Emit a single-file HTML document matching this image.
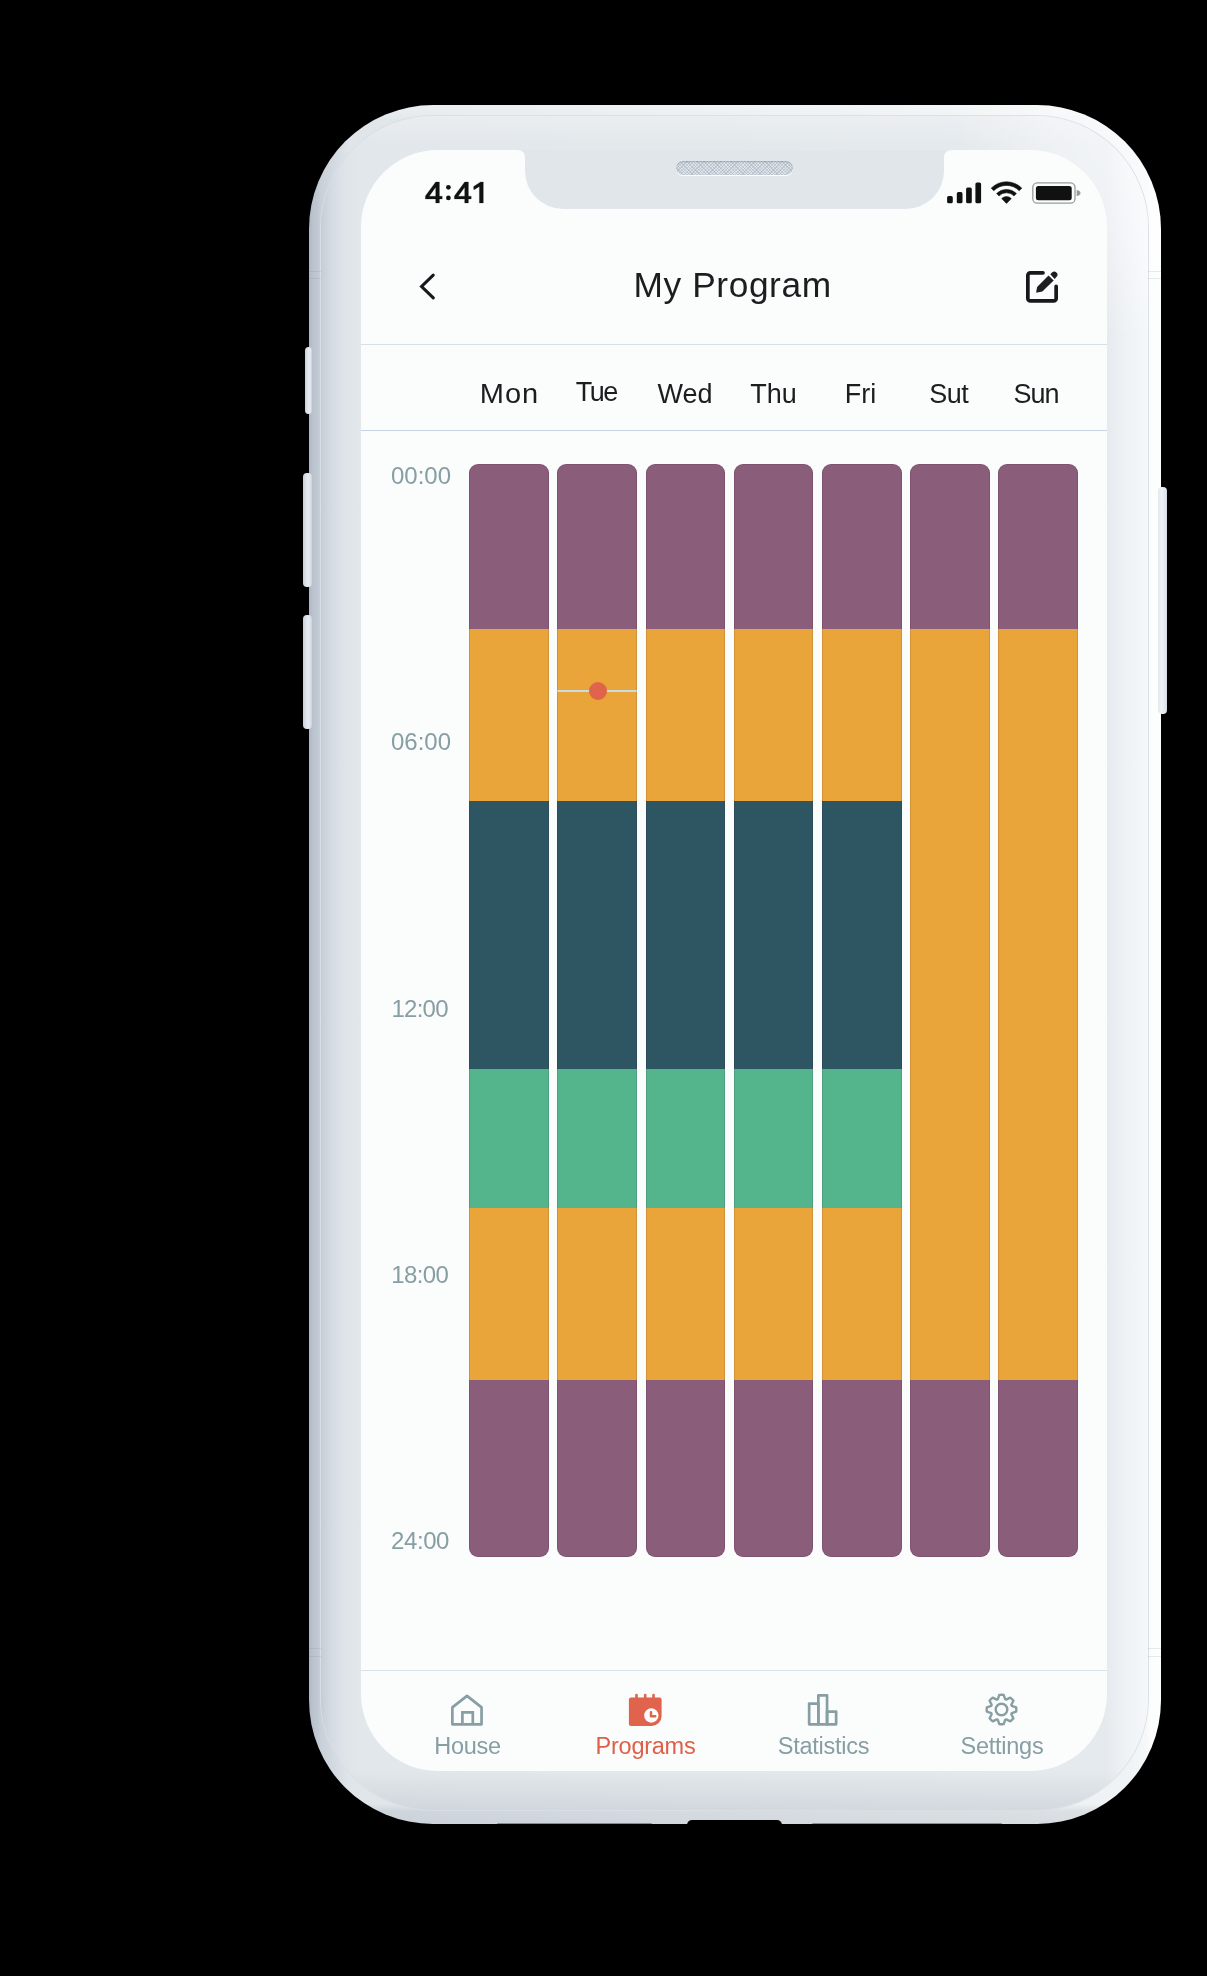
<!DOCTYPE html>
<html>
<head>
<meta charset="utf-8">
<style>
html,body{margin:0;padding:0;}
body{width:1207px;height:1976px;background:#000;position:relative;overflow:hidden;font-family:"Liberation Sans",sans-serif;}
.abs{position:absolute;}
.phone{position:absolute;z-index:0;left:309px;top:105px;width:852px;height:1719px;border-radius:124px;
  background:radial-gradient(ellipse 220px 260px at 100% 0%,rgba(255,255,255,0.7),rgba(255,255,255,0) 100%),linear-gradient(to bottom,rgba(255,255,255,0.35) 0,rgba(255,255,255,0.2) 10px,rgba(255,255,255,0) 16px,rgba(0,0,0,0) calc(100% - 20px),rgba(50,65,90,0.10) calc(100% - 13px),rgba(50,65,90,0.12) 100%),
  linear-gradient(to right,#adb7c3 0px,#b8c1cc 3px,#c1c9d3 9px,#c8d0d9 12px,#e0e5ea 40px,#e9edf0 50%,#f0f3f5 calc(100% - 30px),#f6f8fa calc(100% - 14px),#fcfdfd calc(100% - 10px),#fdfefe 100%);}
.ring{position:absolute;left:12px;top:11px;right:13px;bottom:14px;border-radius:112px;
  background:radial-gradient(ellipse 190px 230px at 100% 0%,rgba(255,255,255,0.6),rgba(255,255,255,0.35) 55%,rgba(255,255,255,0) 100%),linear-gradient(to bottom,rgba(255,255,255,0.25) 0,rgba(255,255,255,0) 30px,rgba(0,0,0,0) calc(100% - 40px),rgba(50,65,90,0.10) 100%),
  linear-gradient(to right,#c4ccd6 0px,#cbd3db 4px,#d3dae1 10px,#dce2e8 20px,#e1e6ea 32px,#e2e7eb 40px,#e5eaee calc(100% - 42px),#edf1f4 calc(100% - 25px),#f3f6f8 calc(100% - 8px),#f5f8f9 100%);
  box-shadow:0 0 0 1px rgba(216,223,230,0.95);}
.btn{position:absolute;border-radius:4px;background:linear-gradient(to right,#c9d0d8 0,#dfe4ea 35%,#e8ecf0 55%,#dfe5ea 80%,#c8d0d9 100%);}
.screen{position:absolute;left:361px;top:150px;width:746px;height:1621px;border-radius:77px;background:#fbfcfc;overflow:hidden;z-index:2;}
.t{position:absolute;white-space:nowrap;line-height:1;}
.day{position:absolute;font-size:27px;color:#1b1d1f;text-align:center;width:100px;line-height:1;}
.lbl{position:absolute;left:391px;font-size:24px;color:#879ea4;line-height:1;}
.col{position:absolute;width:79.7px;top:313.5px;height:1093.5px;border-radius:9px;overflow:hidden;}
.seg{position:absolute;left:0;width:100%;}
.col::after{content:"";position:absolute;inset:0;border-radius:9px;box-shadow:inset 0 0 0 1px rgba(40,10,40,0.12);pointer-events:none;}
.nav{position:absolute;font-size:23.5px;color:#879ea4;text-align:center;width:160px;line-height:1;top:1735px;letter-spacing:-0.25px;}
.hr{position:absolute;left:361px;width:746px;height:1.3px;}
</style>
</head>
<body>
<div class="btn" style="left:305.3px;top:347px;width:6.5px;height:66.6px;border-radius:3.5px;z-index:1"></div>
<div class="btn" style="left:303px;top:472.5px;width:8.5px;height:114px;z-index:1"></div>
<div class="btn" style="left:303px;top:614.5px;width:8.5px;height:114px;z-index:1"></div>
<div class="btn" style="left:1158px;top:487px;width:9px;height:227px;z-index:1;background:linear-gradient(to right,#e4e9ee 0,#eef2f5 40%,#dfe5ea 85%,#cfd6de 100%);"></div>

<div class="abs" style="left:309px;top:270.7px;width:12px;height:1px;background:rgba(120,132,150,0.16);z-index:1"></div>
<div class="abs" style="left:1148px;top:270.7px;width:13px;height:1px;background:rgba(120,132,150,0.16);z-index:1"></div>
<div class="abs" style="left:309px;top:277.9px;width:12px;height:1px;background:rgba(120,132,150,0.16);z-index:1"></div>
<div class="abs" style="left:1148px;top:277.9px;width:13px;height:1px;background:rgba(120,132,150,0.16);z-index:1"></div>
<div class="abs" style="left:309px;top:1648.2px;width:12px;height:1px;background:rgba(120,132,150,0.16);z-index:1"></div>
<div class="abs" style="left:1148px;top:1648.2px;width:13px;height:1px;background:rgba(120,132,150,0.16);z-index:1"></div>
<div class="abs" style="left:309px;top:1655.8px;width:12px;height:1px;background:rgba(120,132,150,0.16);z-index:1"></div>
<div class="abs" style="left:1148px;top:1655.8px;width:13px;height:1px;background:rgba(120,132,150,0.16);z-index:1"></div>
<div class="phone"><div class="ring"></div></div>

<div class="screen">
<svg class="abs" style="left:0;top:0" width="746" height="80" viewBox="0 0 746 80">
<path d="M156 0 Q164 0 164 8 L164 21 A38 38 0 0 0 202 59 L545 59 A38 38 0 0 0 583 21 L583 8 Q583 0 591 0 Z" fill="#e1e6eb"/>
</svg>
<div class="abs" style="left:315.3px;top:11.4px;width:116.4px;height:13.4px;border-radius:7px;background:repeating-linear-gradient(45deg,rgba(165,176,190,0.5) 0 0.9px,transparent 0.9px 2.4px),repeating-linear-gradient(-45deg,rgba(165,176,190,0.5) 0 0.9px,transparent 0.9px 2.4px),#dfe4e9;box-shadow:inset 0 1px 1.5px rgba(120,132,146,0.55),0 1px 0.8px rgba(255,255,255,0.95);"></div>
<div class="col" style="left:108.30px;"><div class="seg" style="top:0px;height:165.1px;background:#8a5e7a;"></div><div class="seg" style="top:165.1px;height:172.4px;background:#e9a43a;"></div><div class="seg" style="top:337.5px;height:268.0px;background:#2e5562;"></div><div class="seg" style="top:605.5px;height:139.0px;background:#54b48b;"></div><div class="seg" style="top:744.5px;height:172.3px;background:#e9a43a;"></div><div class="seg" style="top:916.8px;height:176.7px;background:#8a5e7a;"></div></div>
<div class="col" style="left:196.45px;"><div class="seg" style="top:0px;height:165.1px;background:#8a5e7a;"></div><div class="seg" style="top:165.1px;height:172.4px;background:#e9a43a;"></div><div class="seg" style="top:337.5px;height:268.0px;background:#2e5562;"></div><div class="seg" style="top:605.5px;height:139.0px;background:#54b48b;"></div><div class="seg" style="top:744.5px;height:172.3px;background:#e9a43a;"></div><div class="seg" style="top:916.8px;height:176.7px;background:#8a5e7a;"></div><div class="seg" style="top:226.3px;height:2px;background:#c9dce2;"></div><div class="abs" style="left:32px;top:218.3px;width:18px;height:18px;border-radius:50%;background:#e0634b;"></div></div>
<div class="col" style="left:284.60px;"><div class="seg" style="top:0px;height:165.1px;background:#8a5e7a;"></div><div class="seg" style="top:165.1px;height:172.4px;background:#e9a43a;"></div><div class="seg" style="top:337.5px;height:268.0px;background:#2e5562;"></div><div class="seg" style="top:605.5px;height:139.0px;background:#54b48b;"></div><div class="seg" style="top:744.5px;height:172.3px;background:#e9a43a;"></div><div class="seg" style="top:916.8px;height:176.7px;background:#8a5e7a;"></div></div>
<div class="col" style="left:372.75px;"><div class="seg" style="top:0px;height:165.1px;background:#8a5e7a;"></div><div class="seg" style="top:165.1px;height:172.4px;background:#e9a43a;"></div><div class="seg" style="top:337.5px;height:268.0px;background:#2e5562;"></div><div class="seg" style="top:605.5px;height:139.0px;background:#54b48b;"></div><div class="seg" style="top:744.5px;height:172.3px;background:#e9a43a;"></div><div class="seg" style="top:916.8px;height:176.7px;background:#8a5e7a;"></div></div>
<div class="col" style="left:460.90px;"><div class="seg" style="top:0px;height:165.1px;background:#8a5e7a;"></div><div class="seg" style="top:165.1px;height:172.4px;background:#e9a43a;"></div><div class="seg" style="top:337.5px;height:268.0px;background:#2e5562;"></div><div class="seg" style="top:605.5px;height:139.0px;background:#54b48b;"></div><div class="seg" style="top:744.5px;height:172.3px;background:#e9a43a;"></div><div class="seg" style="top:916.8px;height:176.7px;background:#8a5e7a;"></div></div>
<div class="col" style="left:549.05px;"><div class="seg" style="top:0px;height:165.1px;background:#8a5e7a;"></div><div class="seg" style="top:165.1px;height:751.7px;background:#e9a43a;"></div><div class="seg" style="top:916.8px;height:176.7px;background:#8a5e7a;"></div></div>
<div class="col" style="left:637.20px;"><div class="seg" style="top:0px;height:165.1px;background:#8a5e7a;"></div><div class="seg" style="top:165.1px;height:751.7px;background:#e9a43a;"></div><div class="seg" style="top:916.8px;height:176.7px;background:#8a5e7a;"></div></div>
</div>

<div class="abs" style="left:0;top:0;width:1207px;height:1976px;z-index:3;will-change:transform;">
<svg class="abs" style="left:420px;top:175px" width="70" height="35" viewBox="420 175 70 35">
<path d="M435.70 182.00 L439.40 182.00 L439.40 196.20 L442.20 196.20 L442.20 198.90 L439.40 198.90 L439.40 202.90 L435.70 202.90 L435.70 198.90 L425.40 198.90 L425.40 196.00 Z M435.70 187.20 L435.70 196.20 L429.20 196.20 Z M464.70 182.00 L468.40 182.00 L468.40 196.20 L471.20 196.20 L471.20 198.90 L468.40 198.90 L468.40 202.90 L464.70 202.90 L464.70 198.90 L454.40 198.90 L454.40 196.00 Z M464.70 187.20 L464.70 196.20 L458.20 196.20 Z" fill="#111" fill-rule="evenodd" stroke="#111" stroke-width="0.25" stroke-linejoin="round"/>
<path d="M473.7 186.4 L480.6 182 L483.3 182 L483.3 202.9 L479.4 202.9 L479.4 186.4 L474.6 189.4 L473.7 189.4 Z" fill="#111" stroke="#111" stroke-width="0.25" stroke-linejoin="round"/>
<circle cx="448.4" cy="187.3" r="2.35" fill="#111"/><circle cx="448.4" cy="197.9" r="2.35" fill="#111"/>
</svg>

<!-- signal -->
<svg class="abs" style="left:940px;top:175px" width="150" height="35" viewBox="940 175 150 35">
<rect x="947.1" y="196.1" width="5.7" height="7.2" rx="1.6" fill="#111"/>
<rect x="956.8" y="192.1" width="5.7" height="11.2" rx="1.6" fill="#111"/>
<rect x="966.1" y="187.4" width="5.7" height="15.9" rx="1.6" fill="#111"/>
<rect x="975.4" y="182.4" width="5.7" height="20.9" rx="1.6" fill="#111"/>
<g fill="#111" stroke="#111" stroke-width="0.6" stroke-linejoin="round">
<path d="M991.23 188.13 A21.6 21.6 0 0 1 1021.77 188.13 L1019.23 190.67 A18.0 18.0 0 0 0 993.77 190.67 Z"/>
<path d="M996.60 193.50 A14.0 14.0 0 0 1 1016.40 193.50 L1014.00 195.90 A10.6 10.6 0 0 0 999.00 195.90 Z"/>
<path d="M1006.5 203.4 L1001.69 198.59 A6.8 6.8 0 0 1 1011.31 198.59 Z"/>
</g>
<rect x="1032.8" y="182.8" width="42.2" height="20.4" rx="4.5" fill="none" stroke="#9a9a9a" stroke-width="1.3"/>
<rect x="1035.9" y="185.9" width="35.8" height="14.3" rx="2.5" fill="#111"/>
<path d="M1076.6 190 Q1080.5 190.5 1080.5 193 Q1080.5 195.5 1076.6 196 Z" fill="#9a9a9a"/>
</svg>

<!-- back chevron -->
<svg class="abs" style="left:400px;top:260px" width="50" height="50" viewBox="400 260 50 50">
<path d="M433.2 275.2 L421.6 286.5 L433.3 297.9" fill="none" stroke="#16181b" stroke-width="3.1" stroke-linecap="round" stroke-linejoin="miter"/>
</svg>

<div class="t" style="left:633.5px;top:267.2px;font-size:35.3px;color:#1b1d1f;letter-spacing:0.6px;">My Program</div>

<!-- edit icon -->
<svg class="abs" style="left:1026px;top:271px" width="32" height="32" viewBox="0 0 32 32">
<path d="M17 1.85 H4.35 A2.5 2.5 0 0 0 1.85 4.35 V27.45 A2.5 2.5 0 0 0 4.35 29.95 H27.65 A2.5 2.5 0 0 0 30.15 27.45 V15.4" fill="none" stroke="#16181b" stroke-width="3.7" stroke-linecap="round"/>
<path d="M11.1 16.1 L22.5 4.4 L27.7 9.4 L16.3 20.6 L10.1 21.8 Z" fill="#1c1e21"/>
<path d="M24.3 3.3 L26.0 1.6 A3.0 3.0 0 0 1 30.4 1.6 A3.0 3.0 0 0 1 30.4 6.0 L28.7 7.9 Z" fill="#1c1e21"/>
</svg>

<div class="hr" style="top:343.7px;background:#d6e0ea;"></div>
<div class="hr" style="top:430px;background:#c6d4e3;"></div>

<div class="day" style="left:459px;top:381px;letter-spacing:0.9px;text-indent:0.9px;transform:scaleX(1.075);">Mon</div>
<div class="day" style="left:547px;top:379px;letter-spacing:-1.4px;text-indent:-1.4px;">Tue</div>
<div class="day" style="left:635px;top:381px;">Wed</div>
<div class="day" style="left:723.5px;top:381px;">Thu</div>
<div class="day" style="left:810.5px;top:381px;">Fri</div>
<div class="day" style="left:899px;top:381px;letter-spacing:-0.6px;text-indent:-0.6px;">Sut</div>
<div class="day" style="left:986.5px;top:381px;letter-spacing:-1px;text-indent:-1px;">Sun</div>

<div class="lbl" style="top:463.6px;">00:00</div>
<div class="lbl" style="top:730px;">06:00</div>
<div class="lbl" style="top:996.5px;letter-spacing:-0.75px;left:391.5px;">12:00</div>
<div class="lbl" style="top:1263px;letter-spacing:-0.65px;left:391.3px;">18:00</div>
<div class="lbl" style="top:1529.4px;letter-spacing:-0.4px;">24:00</div>

<div class="hr" style="top:1670px;background:#dbe3ea;"></div>

<!-- nav icons -->
<svg class="abs" style="left:440px;top:1688px" width="60" height="45" viewBox="440 1688 60 45">
<path d="M452.35 1724.35 V1707.4 L467 1695.9 L481.55 1707.4 V1724.35 Z" fill="none" stroke="#879ea4" stroke-width="2.7" stroke-linejoin="round"/>
<path d="M462.4 1724.35 V1712.35 H472.8 V1724.35" fill="none" stroke="#879ea4" stroke-width="2.7"/>
</svg>

<svg class="abs" style="left:620px;top:1688px" width="50" height="45" viewBox="620 1688 50 45">
<path d="M631 1697.4 H659.5 A2.1 2.1 0 0 1 661.6 1699.5 V1716 A10 10 0 0 1 651.6 1726 H631 A2.1 2.1 0 0 1 628.9 1723.9 V1699.5 A2.1 2.1 0 0 1 631 1697.4 Z" fill="#e0634b"/>
<rect x="635.2" y="1693.7" width="2.6" height="5.5" rx="1.3" fill="#e0634b"/>
<rect x="643.9" y="1693.7" width="2.6" height="5.5" rx="1.3" fill="#e0634b"/>
<rect x="652.2" y="1693.7" width="2.6" height="5.5" rx="1.3" fill="#e0634b"/>
<circle cx="651.3" cy="1715.5" r="7.2" fill="#fbfcfc"/>
<path d="M651 1712.2 V1716.3 H655.2" fill="none" stroke="#e0634b" stroke-width="2.5" stroke-linecap="round" stroke-linejoin="round"/>
</svg>

<svg class="abs" style="left:800px;top:1688px" width="45" height="45" viewBox="800 1688 45 45">
<g fill="none" stroke="#879ea4" stroke-width="2.7" stroke-linejoin="round"><rect x="809.15" y="1703.55" width="9.2" height="20.8"/><rect x="818.35" y="1695.35" width="8.7" height="29"/><rect x="827.05" y="1711.55" width="9.1" height="12.8"/></g>
</svg>

<svg class="abs" style="left:979.1px;top:1687.2px" width="45" height="45" viewBox="-22.5 -22.5 45 45"><path d="M-3.64 -10.27 L-2.19 -14.64 A14.8 14.8 0 0 1 2.19 -14.64 L3.64 -10.27 A10.9 10.9 0 0 1 4.69 -9.84 L8.80 -11.90 A14.8 14.8 0 0 1 11.90 -8.80 L9.84 -4.69 A10.9 10.9 0 0 1 10.27 -3.64 L14.64 -2.19 A14.8 14.8 0 0 1 14.64 2.19 L10.27 3.64 A10.9 10.9 0 0 1 9.84 4.69 L11.90 8.80 A14.8 14.8 0 0 1 8.80 11.90 L4.69 9.84 A10.9 10.9 0 0 1 3.64 10.27 L2.19 14.64 A14.8 14.8 0 0 1 -2.19 14.64 L-3.64 10.27 A10.9 10.9 0 0 1 -4.69 9.84 L-8.80 11.90 A14.8 14.8 0 0 1 -11.90 8.80 L-9.84 4.69 A10.9 10.9 0 0 1 -10.27 3.64 L-14.64 2.19 A14.8 14.8 0 0 1 -14.64 -2.19 L-10.27 -3.64 A10.9 10.9 0 0 1 -9.84 -4.69 L-11.90 -8.80 A14.8 14.8 0 0 1 -8.80 -11.90 L-4.69 -9.84 A10.9 10.9 0 0 1 -3.64 -10.27 Z" fill="none" stroke="#879ea4" stroke-width="2.4" stroke-linejoin="round"/><circle cx="0" cy="0" r="5.8" fill="none" stroke="#879ea4" stroke-width="2.4"/></svg>

<div class="nav" style="left:387.5px;">House</div>
<div class="nav" style="left:565.5px;color:#df5f48;">Programs</div>
<div class="nav" style="left:743.5px;">Statistics</div>
<div class="nav" style="left:922px;">Settings</div>

<div class="abs" style="left:687px;top:1820.3px;width:95px;height:6px;background:#000;border-radius:5px 5px 0 0;z-index:5"></div>
<div class="abs" style="left:497px;top:1823.4px;width:155px;height:1.6px;background:rgba(0,0,0,0.35);border-radius:1px;z-index:5"></div>
<div class="abs" style="left:812px;top:1823.4px;width:190px;height:1.6px;background:rgba(0,0,0,0.35);border-radius:1px;z-index:5"></div>
</div>
</body>
</html>
